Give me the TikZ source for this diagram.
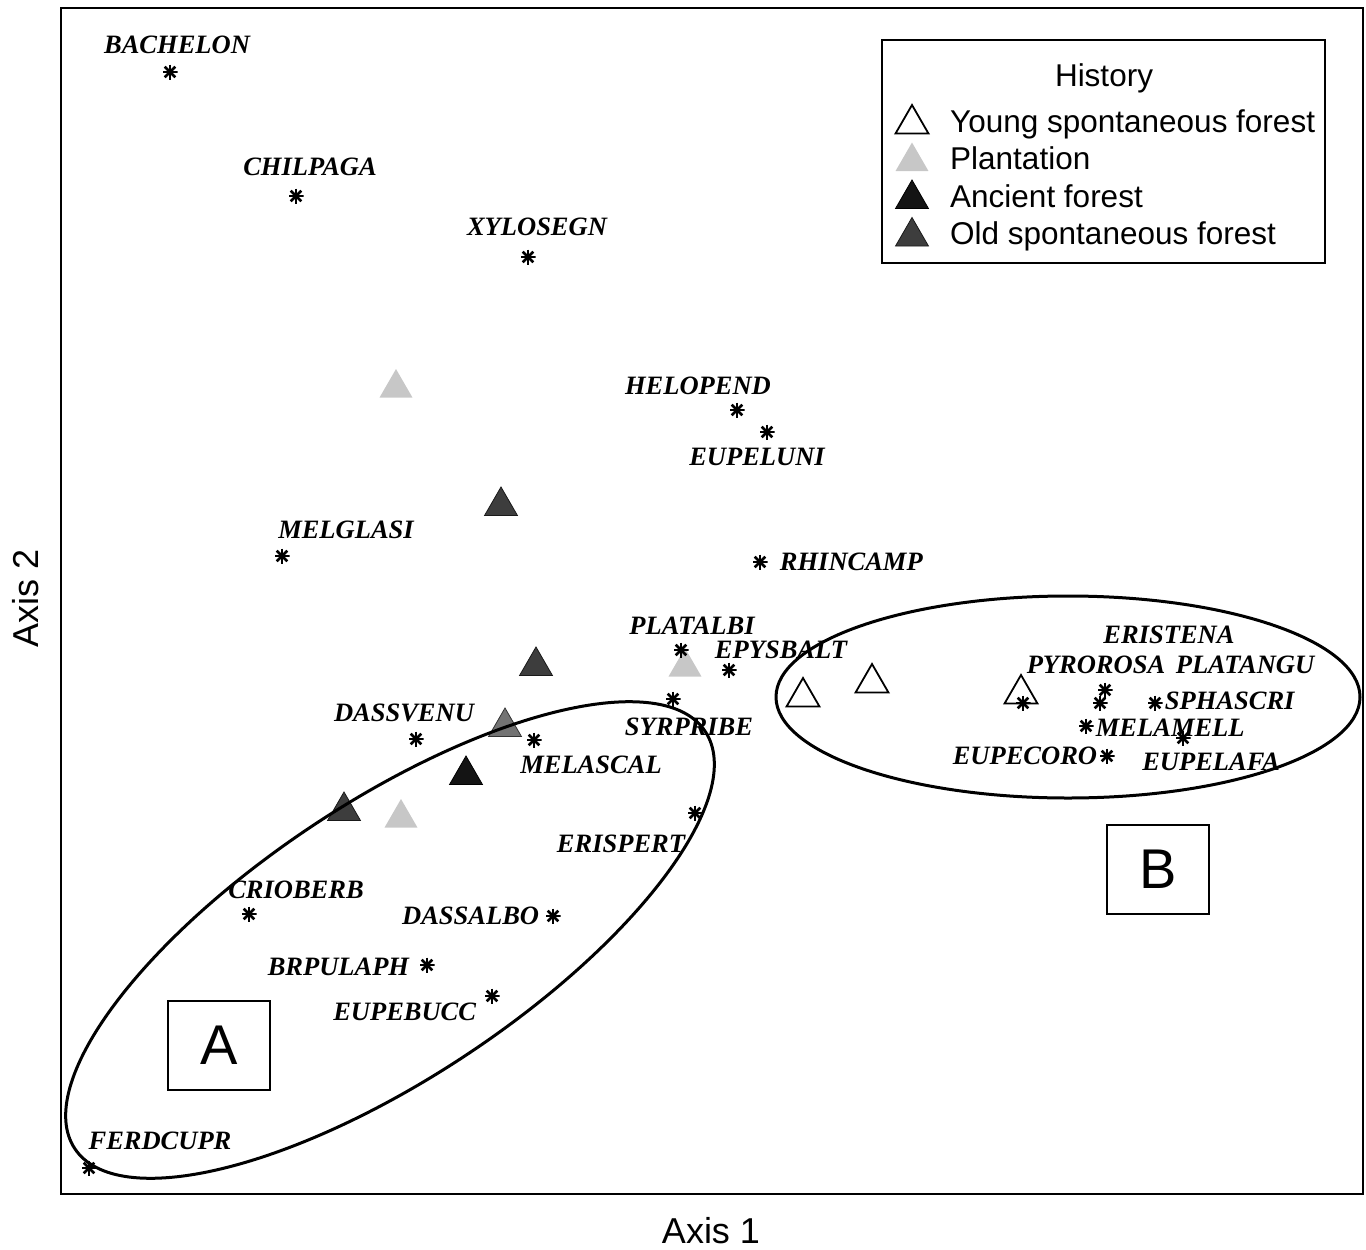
\documentclass[tikz,border=0pt]{standalone}
\usepackage{fontspec}
\setmainfont{Liberation Serif}
\newfontfamily\arialfont{Liberation Sans}
\usetikzlibrary{positioning}
\usetikzlibrary{shapes.geometric}

\tikzset{
  spp/.style={inner sep=0pt, minimum size=15pt, path picture={
      \foreach \a in {0,45,90,135}
        \draw[line width=2.6pt] (path picture bounding box.center) ++(\a:7.5pt) -- ++(\a:-15pt);}},
  spname/.style={inner sep=0pt, font=\bfseries\itshape\fontsize{26.5}{29}\selectfont},
  site/.style={regular polygon, regular polygon sides=3, inner sep=0pt, minimum size=38pt},
  young/.style={site, draw=black, fill=white, line width=1.8pt},
  plant/.style={site, fill=black!22},
  ancient/.style={site, draw=black, fill=black!92, line width=0.8pt},
  oldsp/.style={site, draw=black!90, fill=black!76, line width=0.8pt},
  midsp/.style={site, draw=black!80, fill=black!55, line width=0.8pt},
  legtext/.style={inner sep=0pt, font=\arialfont\fontsize{31.5}{34}\selectfont},
  axislab/.style={inner sep=0pt, font=\arialfont\fontsize{36}{40}\selectfont},
  grpbox/.style={draw, line width=2pt, minimum width=102pt, minimum height=89pt,
      font=\arialfont\fontsize{56}{60}\selectfont},
  grp/.style={line width=3pt}
}

\begin{document}
\begin{tikzpicture}[x=1pt,y=-1pt]

\useasboundingbox (0,0) rectangle (1366,1250);
\draw[line width=2pt] (61,8) rectangle (1363,1194);

% sites
\node[plant]   (pl1) at (396,388) {};
\node[oldsp]   (os1) at (501,506) {};
\node[oldsp]   (os2) at (536,666) {};
\node[plant]   (pl2) at (685,667) {};
\node[midsp]   (ms1) at (505,727) {};
\node[ancient] (an1) at (466,775) {};
\node[oldsp]   (os3) at (344,811) {};
\node[plant]   (pl3) at (401,818) {};
\node[young]   (yg1) at (803,697) {};
\node[young]   (yg2) at (872,683) {};
\node[young]   (yg3) at (1021,694) {};

% species
\node[spp] (bachelon) at (170,72) {};
\node[spname, above=10pt of bachelon, xshift=7pt] (bachelon-t) {BACHELON};
\node[spp] (chilpaga) at (296,196) {};
\node[spname, above=12pt of chilpaga, xshift=14pt] (chilpaga-t) {CHILPAGA};
\node[spp] (xylosegn) at (528,257) {};
\node[spname, above=13pt of xylosegn, xshift=9pt] (xylosegn-t) {XYLOSEGN};
\node[spp] (helopend) at (737,410) {};
\node[spname, above=7pt of helopend, xshift=-39pt] (helopend-t) {HELOPEND};
\node[spp] (eupeluni) at (767,432) {};
\node[spname, below=8pt of eupeluni, xshift=-10pt] (eupeluni-t) {EUPELUNI};
\node[spp] (melglasi) at (282,556) {};
\node[spname, above=9pt of melglasi, xshift=64pt] (melglasi-t) {MELGLASI};
\node[spp] (rhincamp) at (760,562) {};
\node[spname, right=12pt of rhincamp] (rhincamp-t) {RHINCAMP};
\node[spp] (platalbi) at (681,650) {};
\node[spname, above=8pt of platalbi, xshift=11pt] (platalbi-t) {PLATALBI};
\node[spp] (epysbalt) at (729,670) {};
\node[spname, above=3pt of epysbalt, xshift=52pt] (epysbalt-t) {EPYSBALT};
\node[spp] (syrpribe) at (673,699) {};
\node[spname, below=11pt of syrpribe, xshift=16pt] (syrpribe-t) {SYRPRIBE};
\node[spp] (dassvenu) at (416,739) {};
\node[spname, above=9pt of dassvenu, xshift=-12pt] (dassvenu-t) {DASSVENU};
\node[spp] (melascal) at (534,740) {};
\node[spname, below=8pt of melascal, xshift=57pt] (melascal-t) {MELASCAL};
\node[spp] (erispert) at (695,813) {};
\node[spname, below=14pt of erispert, xshift=-74pt] (erispert-t) {ERISPERT};
\node[spp] (crioberb) at (249,914) {};
\node[spname, above=7pt of crioberb, xshift=47pt] (crioberb-t) {CRIOBERB};
\node[spp] (dassalbo) at (553,916) {};
\node[spname, left=6pt of dassalbo] (dassalbo-t) {DASSALBO};
\node[spp] (brpulaph) at (427,965) {};
\node[spname, left=10pt of brpulaph, yshift=-2pt] (brpulaph-t) {BRPULAPH};
\node[spp] (eupebucc) at (492,996) {};
\node[spname, left=8pt of eupebucc, yshift=-16pt] (eupebucc-t) {EUPEBUCC};
\node[spp] (ferdcupr) at (89,1168) {};
\node[spname, above=10pt of ferdcupr, xshift=71pt] (ferdcupr-t) {FERDCUPR};

% group B species
\node[spp] (pyrorosa) at (1023,703) {};
\node[spp] (eristena) at (1105,690) {};
\node[spp] (platangu) at (1100,703) {};
\node[spp] (sphascri) at (1155,703) {};
\node[spp] (melamell) at (1086,726) {};
\node[spp] (eupelafa) at (1183,738) {};
\node[spp] (eupecoro) at (1107,756) {};
\node[spname] (eristena-t) at (1169,635) {ERISTENA};
\node[spname] (pyrorosa-t) at (1096,665) {PYROROSA};
\node[spname] (platangu-t) at (1245,665) {PLATANGU};
\node[spname, right=2pt of sphascri, yshift=2pt] (sphascri-t) {SPHASCRI};
\node[spname, right=2pt of melamell, yshift=-2pt] (melamell-t) {MELAMELL};
\node[spname, left=2pt of eupecoro] (eupecoro-t) {EUPECORO};
\node[spname, below=7pt of eupelafa, xshift=28pt] (eupelafa-t) {EUPELAFA};

% groups
\draw[grp, rotate around={33.5:(390,940)}] (390,940) ellipse [x radius=378pt, y radius=138pt];
\draw[grp] (1068,697) ellipse [x radius=292pt, y radius=101pt];
\node[grpbox] (boxA) at (219,1045) {A};
\node[grpbox] (boxB) at (1158,869) {B};

% legend
\node[draw, line width=1.5pt, minimum width=443pt, minimum height=223pt] (legend) at (1103.5,151.5) {};
\node[legtext, anchor=base] (legtitle) at (1104,86) {History};
\node[young]   (lg1) at (912,124) {};
\node[legtext, anchor=base west] (lg1-t) at (950,132) {Young spontaneous forest};
\node[plant]   (lg2) at (912,161.5) {};
\node[legtext, anchor=base west] (lg2-t) at (950,169.5) {Plantation};
\node[ancient] (lg3) at (912,199) {};
\node[legtext, anchor=base west] (lg3-t) at (950,207) {Ancient forest};
\node[oldsp]   (lg4) at (912,236.5) {};
\node[legtext, anchor=base west] (lg4-t) at (950,244.5) {Old spontaneous forest};

% axes
\node[axislab] (axis1) at (711,1231) {Axis 1};
\node[axislab, rotate=90] (axis2) at (26,598) {Axis 2};

\end{tikzpicture}
\end{document}
